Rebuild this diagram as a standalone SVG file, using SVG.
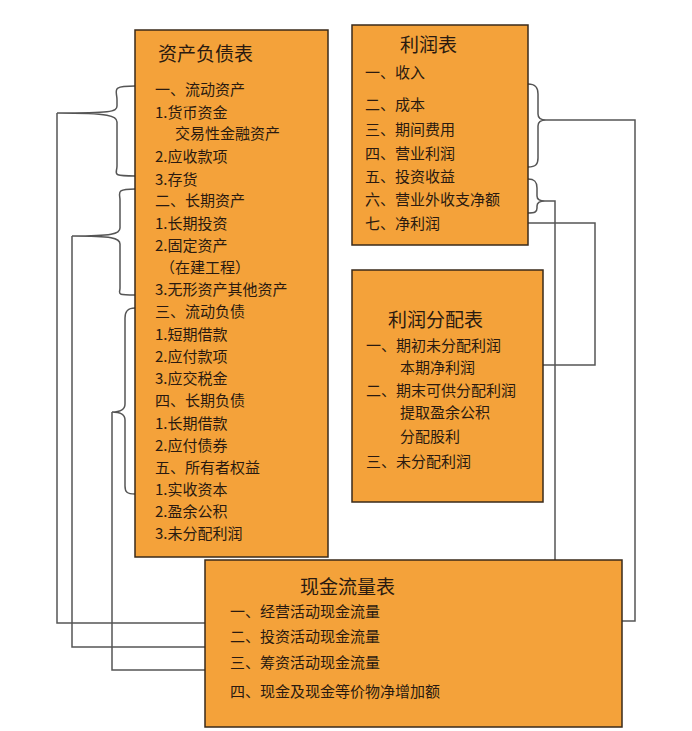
<svg xmlns="http://www.w3.org/2000/svg" width="692" height="731" viewBox="0 0 692 731">
<style>
.b{fill:#f4a23a;stroke:#3a2a1a;stroke-width:1.5}
.t{font-family:"Noto Sans CJK SC","Noto Sans",sans-serif;font-size:15px;fill:#2a1a10}
.h{font-family:"Noto Sans CJK SC","Noto Sans",sans-serif;font-size:19px;fill:#2a1a10}
.c{fill:none;stroke:#555;stroke-width:1.5}
</style>
<rect width="692" height="731" fill="#fff"/>
<g id="connectors">
<path class="c" d="M135,86 C110,86 117,90 117,100 L117,106 C117,112 110,113 57,113 C110,113 117,116 117,122 L117,166 C117,174 110,176 135,176"/>
<path class="c" d="M57,113 V623 H205"/>
<path class="c" d="M135,189 C115,189 120,193 120,200 L120,228 C120,234 112,236 72,236 C112,236 120,238 120,244 L120,288 C120,294 115,295 135,295"/>
<path class="c" d="M72,236 V647 H205"/>
<path class="c" d="M135,308 C127,308 125,312 125,318 L125,404 C125,410 120,412 112,412 C120,412 125,414 125,420 L125,486 C125,492 127,494 135,494"/>
<path class="c" d="M112,412 V670 H205"/>
<path class="c" d="M528,84 C536,84 538,88 538,94 L538,114 C538,118 540,120 546,120 C540,120 538,122 538,126 L538,158 C538,164 536,167 528,167"/>
<path class="c" d="M546,120 H635 V621 H622"/>
<path class="c" d="M528,179 C535,179 537,182 537,188 L537,196 C537,200 540,201 545,201 C540,201 537,202 537,206 L537,208 C537,212 535,213 528,213"/>
<path class="c" d="M545,201 H555 V645 H622"/>
<path class="c" d="M528,223 H595 V365 H543"/>
</g>
<g id="balance">
<rect class="b" x="135" y="30" width="193" height="527"/>
<text class="h" x="158" y="61">资产负债表</text>
<text class="t" x="155" y="95">一、流动资产</text>
<text class="t" x="155" y="118">1.货币资金</text>
<text class="t" x="175" y="139">交易性金融资产</text>
<text class="t" x="155" y="162">2.应收款项</text>
<text class="t" x="155" y="185">3.存货</text>
<text class="t" x="155" y="206">二、长期资产</text>
<text class="t" x="155" y="229">1.长期投资</text>
<text class="t" x="155" y="251">2.固定资产</text>
<text class="t" x="160" y="273">（在建工程）</text>
<text class="t" x="155" y="295">3.无形资产其他资产</text>
<text class="t" x="155" y="317">三、流动负债</text>
<text class="t" x="155" y="340">1.短期借款</text>
<text class="t" x="155" y="362">2.应付款项</text>
<text class="t" x="155" y="384">3.应交税金</text>
<text class="t" x="155" y="406">四、长期负债</text>
<text class="t" x="155" y="429">1.长期借款</text>
<text class="t" x="155" y="451">2.应付债券</text>
<text class="t" x="155" y="473">五、所有者权益</text>
<text class="t" x="155" y="495">1.实收资本</text>
<text class="t" x="155" y="517">2.盈余公积</text>
<text class="t" x="155" y="539">3.未分配利润</text>
</g>
<g id="income">
<rect class="b" x="352" y="25" width="176" height="220"/>
<text class="h" x="400" y="52">利润表</text>
<text class="t" x="365" y="78">一、收入</text>
<text class="t" x="365" y="110">二、成本</text>
<text class="t" x="365" y="135">三、期间费用</text>
<text class="t" x="365" y="159">四、营业利润</text>
<text class="t" x="365" y="182">五、投资收益</text>
<text class="t" x="365" y="205">六、营业外收支净额</text>
<text class="t" x="365" y="229">七、净利润</text>
</g>
<g id="distribution">
<rect class="b" x="352" y="270" width="191" height="232"/>
<text class="h" x="388" y="327">利润分配表</text>
<text class="t" x="366" y="351">一、期初未分配利润</text>
<text class="t" x="400" y="373">本期净利润</text>
<text class="t" x="366" y="396">二、期末可供分配利润</text>
<text class="t" x="400" y="418">提取盈余公积</text>
<text class="t" x="400" y="442">分配股利</text>
<text class="t" x="366" y="467">三、未分配利润</text>
</g>
<g id="cashflow">
<rect class="b" x="205" y="560" width="417" height="167"/>
<text class="h" x="300" y="594">现金流量表</text>
<text class="t" x="230" y="617">一、经营活动现金流量</text>
<text class="t" x="230" y="642">二、投资活动现金流量</text>
<text class="t" x="230" y="668">三、筹资活动现金流量</text>
<text class="t" x="230" y="697">四、现金及现金等价物净增加额</text>
</g>
</svg>
